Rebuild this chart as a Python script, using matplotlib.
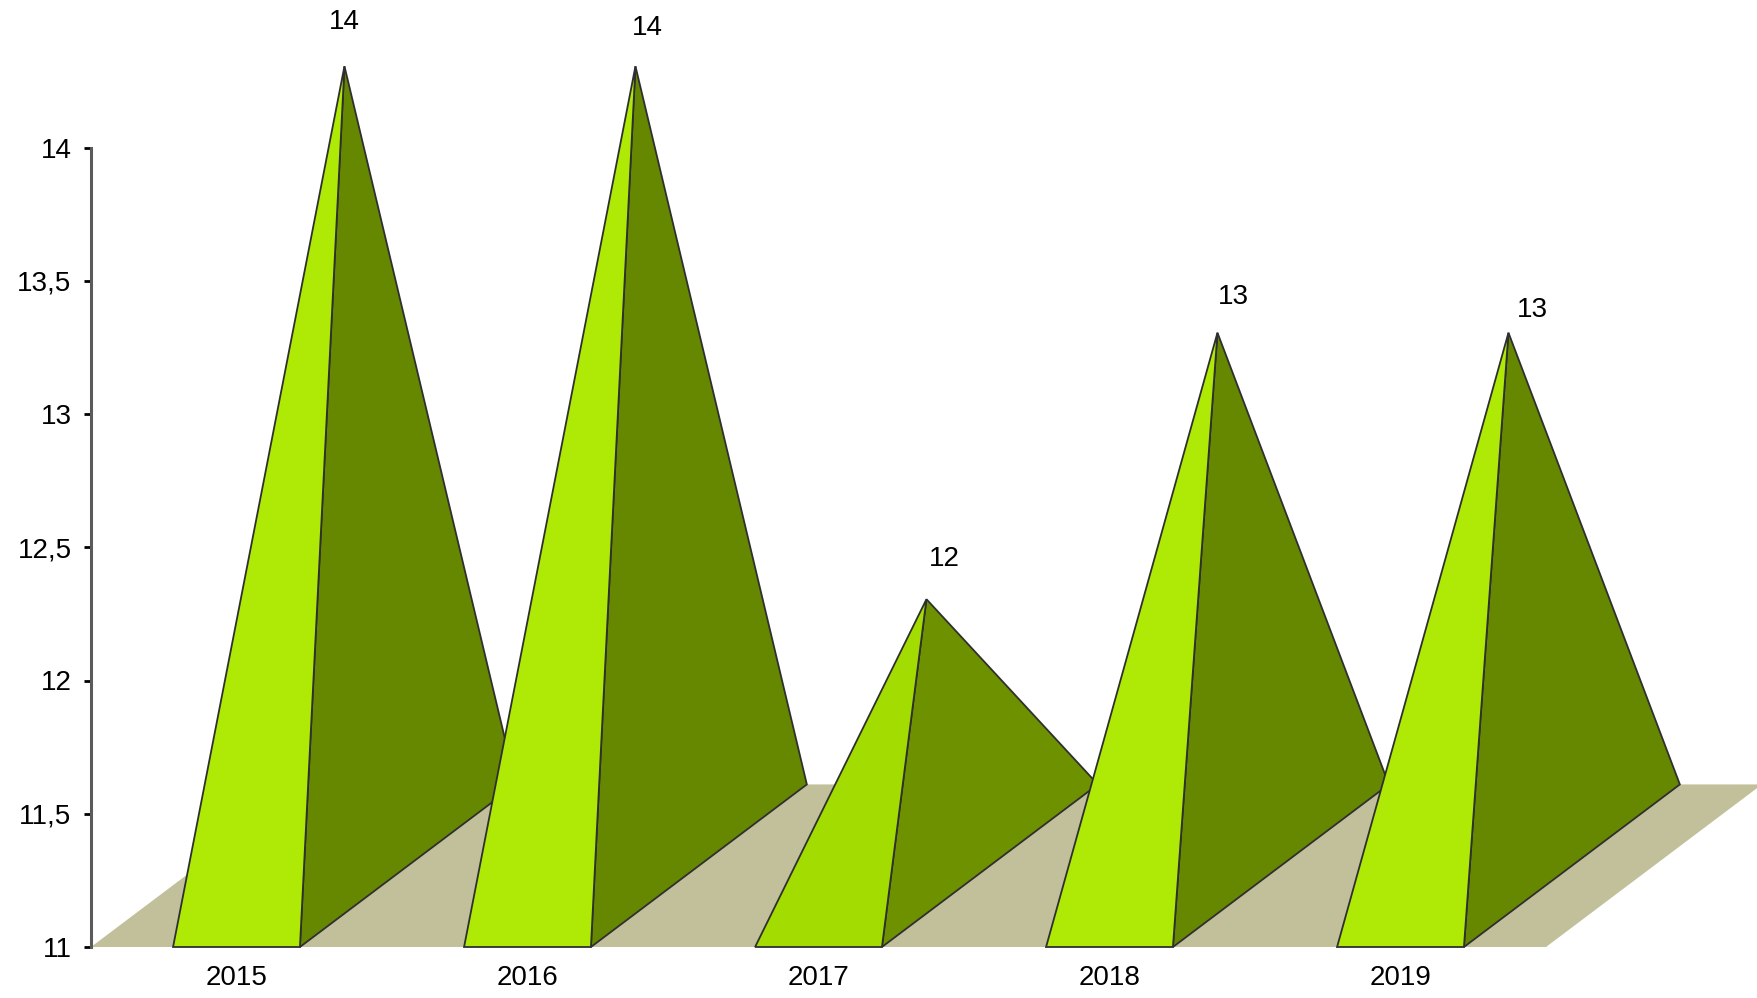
import numpy as np
import matplotlib
matplotlib.use("Agg")
import matplotlib.pyplot as plt
from matplotlib.patches import Polygon

plt.rcParams['font.family'] = ['Liberation Sans', 'DejaVu Sans']

years = ['2015', '2016', '2017', '2018', '2019']
values = [14, 14, 12, 13, 13]
y_ticks = [11, 11.5, 12, 12.5, 13, 13.5, 14]

# front / side face colours, 2017 is a bit darker in the original
front_colors = ['#aeea06', '#aeea06', '#a3dc00', '#aeea06', '#aeea06']
side_colors = ['#668800', '#668800', '#6e9100', '#668800', '#668800']
# label shift from the apex in points
label_dx = [0, 8.5, 13, 11.5, 17.5]
label_dy = [22.5, 18, 19.5, 16.5, 7]

W, H = 1758, 998
fig = plt.figure(figsize=(W / 100, H / 100), dpi=100)
ax = fig.add_axes([91 / W, (H - 947) / H, 1455 / W, 799.5 / H])
ax.set_xlim(0, len(years))
ax.set_ylim(11, 14)

# fake 3d depth, in data units
depth_x = 0.742
depth_y = 0.61
bar_w = 0.436
base = 11

floor = Polygon([[0, base], [len(years), base],
                 [len(years) + depth_x, base + depth_y], [depth_x, base + depth_y]],
                closed=True, fc='#c1c09a', ec='none', clip_on=False, zorder=1)
ax.add_patch(floor)

for i, v in enumerate(values):
    c = i + 0.5
    left = c - bar_w / 2
    right = c + bar_w / 2
    apex = (c + depth_x / 2, v + depth_y / 2)
    # side face first, front face goes over it
    ax.add_patch(Polygon([[right, base], [right + depth_x, base + depth_y], apex],
                         closed=True, fc=side_colors[i], ec='#2f2f2f', lw=1.3,
                         joinstyle='miter', clip_on=False, zorder=2 + i))
    ax.add_patch(Polygon([[left, base], [right, base], apex],
                         closed=True, fc=front_colors[i], ec='#2f2f2f', lw=1.3,
                         joinstyle='miter', clip_on=False, zorder=2 + i))
    ax.annotate(str(v), xy=apex, xytext=(label_dx[i], label_dy[i]),
                textcoords='offset points', ha='center', va='bottom',
                fontsize=20, color='black', annotation_clip=False, zorder=20)

for s in ['top', 'right', 'bottom']:
    ax.spines[s].set_visible(False)
ax.spines['left'].set_color('#5a5a5a')
ax.spines['left'].set_linewidth(2.2)
ax.spines['left'].set_zorder(20)

ax.set_yticks(y_ticks)
ax.set_yticklabels([f'{t:g}'.replace('.', ',') for t in y_ticks], fontsize=20)
ax.tick_params(axis='y', length=5, width=2, color='black', pad=9)
ax.set_xticks(np.arange(len(years)) + 0.5)
ax.set_xticklabels(years, fontsize=20)
ax.tick_params(axis='x', length=0, pad=13)
ax.patch.set_alpha(0)

fig.savefig('out.png', dpi=100)
